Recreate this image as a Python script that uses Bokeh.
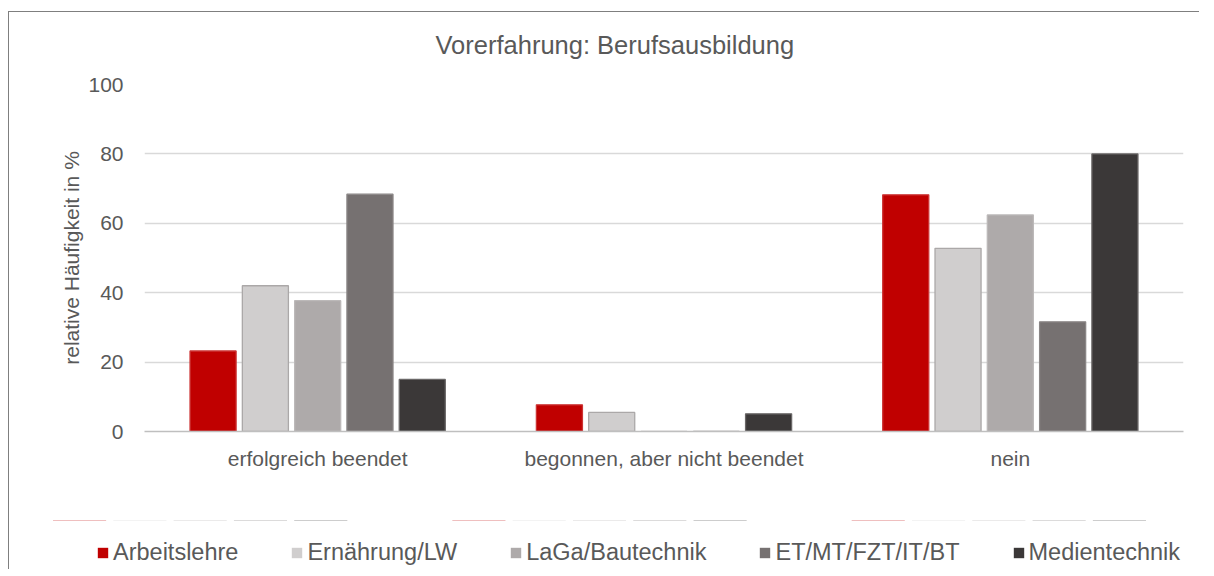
from bokeh.plotting import figure
from bokeh.models import (ColumnDataSource, FactorRange, Range1d, Legend, LegendItem,
                          FixedTicker, InlineStyleSheet)
from bokeh.layouts import column
from bokeh.transform import dodge
from bokeh.embed import file_html
from bokeh.resources import INLINE

categories = ["erfolgreich beendet", "begonnen, aber nicht beendet", "nein"]
series = ["Arbeitslehre", "Ernährung/LW", "LaGa/Bautechnik", "ET/MT/FZT/IT/BT", "Medientechnik"]
arbeitslehre = [23.2, 7.7, 68.2]
ernaehrung = [42.0, 5.5, 52.8]
laga = [37.7, 0.0, 62.4]
et = [68.4, 0.0, 31.6]
medien = [15.0, 5.1, 80.0]
y_ticks = [0, 20, 40, 60, 80, 100]
grid_ticks = [20, 40, 60, 80, 100]

fills = ["#C00000", "#D0CECE", "#AEAAAA", "#767171", "#3B3838"]
lines = ["#CC3333", "#ABA8A8", "#BCB9B9", "#8A8686", "#6A6767"]
cols = ["s0", "s1", "s2", "s3", "s4"]
FONT = "Liberation Sans"
TXT = "#595959"

src = ColumnDataSource(dict(cat=categories, s0=arbeitslehre, s1=ernaehrung,
                            s2=laga, s3=et, s4=medien))

border_css = InlineStyleSheet(css="""
:host::after {
  content: '';
  position: absolute;
  left: 8px; top: 11px; width: 1190px; height: 557px;
  border-left: 1.3px solid #7F7F7F;
  border-top: 1.3px solid #7F7F7F;
  pointer-events: none;
  z-index: 10;
}
""")

W = 1198
step = 0.151
bw = 0.133

# ---- main chart ----
p = figure(x_range=FactorRange(*categories, range_padding=0), y_range=Range1d(0, 100),
           width=W, height=520, output_backend="svg", toolbar_location=None,
           min_border_left=144, min_border_right=15, min_border_top=84, min_border_bottom=89)
p.outline_line_color = None
p.background_fill_color = "white"
p.border_fill_color = "white"

p.title.text = "Vorerfahrung: Berufsausbildung"
p.title.align = "left"
p.title.offset = 291
p.title.text_font = FONT
p.title.text_font_size = "25.5px"
p.title.text_font_style = "normal"
p.title.text_color = TXT
p.title.standoff = 51

for i, col in enumerate(cols):
    p.vbar(x=dodge("cat", (i - 2) * step, range=p.x_range), top=col, width=bw,
           source=src, fill_color=fills[i], line_color=lines[i], line_width=1.3)

p.yaxis.ticker = FixedTicker(ticks=y_ticks)
p.yaxis.axis_line_color = None
p.yaxis.major_tick_line_color = None
p.yaxis.minor_tick_line_color = None
p.yaxis.major_label_text_font = FONT
p.yaxis.major_label_text_font_size = "21px"
p.yaxis.major_label_text_color = TXT
p.yaxis.major_label_standoff = 15
p.yaxis.axis_label = "relative Häufigkeit in %"
p.yaxis.axis_label_text_font = FONT
p.yaxis.axis_label_text_font_size = "21px"
p.yaxis.axis_label_text_font_style = "normal"
p.yaxis.axis_label_text_color = TXT
p.yaxis.axis_label_standoff = 2

p.xaxis.axis_line_color = "#BFBFBF"
p.xaxis.axis_line_width = 1.5
p.xaxis.major_tick_line_color = None
p.xaxis.minor_tick_line_color = None
p.xaxis.major_label_text_font = FONT
p.xaxis.major_label_text_font_size = "21px"
p.xaxis.major_label_text_color = TXT
p.xaxis.major_label_standoff = 9

p.xgrid.grid_line_color = None
p.ygrid.grid_line_color = "#D9D9D9"
p.ygrid.grid_line_width = 1.5
p.ygrid.ticker = FixedTicker(ticks=grid_ticks)

# ---- legend strip: same series; its y range keeps the bars out of view ----
q = figure(x_range=FactorRange(*categories, range_padding=0), y_range=Range1d(-1001, -1000),
           width=W, height=48, output_backend="svg", toolbar_location=None,
           x_axis_location=None, y_axis_location=None, min_border=0)
q.outline_line_color = None
q.grid.visible = False
q.border_fill_color = "white"
q.background_fill_color = "white"
for fig in (p, q):
    if "frame_align" in fig.properties():
        fig.frame_align = False

leg_renderers = []
for i, col in enumerate(cols):
    r = q.vbar(x=dodge("cat", (i - 2) * step, range=q.x_range), top=col, width=bw,
               source=src, fill_color=fills[i], line_alpha=0)
    leg_renderers.append(r)

legend = Legend(items=[LegendItem(label=name, renderers=[leg_renderers[i]])
                       for i, name in enumerate(series)],
                location=(96, 2), orientation="horizontal",
                background_fill_alpha=0, border_line_color=None,
                glyph_width=13, glyph_height=13, label_standoff=4, spacing=52,
                padding=0, margin=0,
                label_text_font=FONT, label_text_font_size="23.5px", label_text_color=TXT)
q.add_layout(legend, "center")

layout = column(p, q, stylesheets=[border_css])
open("out.html", "w").write(file_html(layout, INLINE))
